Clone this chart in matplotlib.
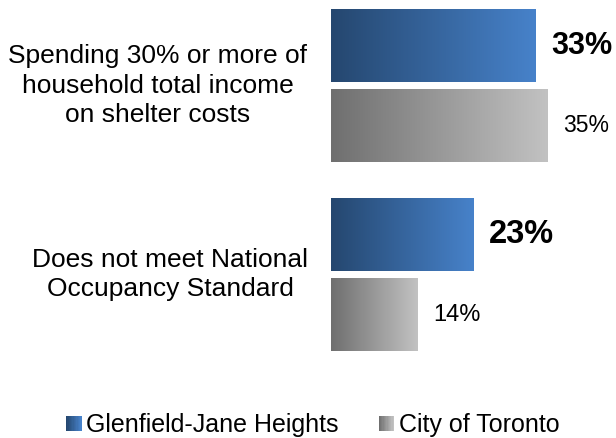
import numpy as np
import matplotlib.pyplot as plt
from matplotlib.colors import LinearSegmentedColormap
from matplotlib.legend_handler import HandlerBase
from matplotlib.patches import Rectangle

plt.rcParams['font.family'] = ['Liberation Sans', 'DejaVu Sans']

categories = ["Spending 30% or more of\nhousehold total income\non shelter costs",
              "Does not meet National\nOccupancy Standard"]
series_names = ["Glenfield-Jane Heights", "City of Toronto"]
glenfield = [33, 23]
toronto = [35, 14]

blue_cmap = LinearSegmentedColormap.from_list("blue", ["#25476f", "#4782ca"])
gray_cmap = LinearSegmentedColormap.from_list("gray", ["#6f6f6f", "#c2c2c2"])


def gradient_bar(ax, bar, cmap):
    x0, y0 = bar.get_x(), bar.get_y()
    w, h = bar.get_width(), bar.get_height()
    grad = np.linspace(0, 1, 256).reshape(1, -1)
    ax.imshow(grad, cmap=cmap, aspect='auto', extent=(x0, x0 + w, y0 + h, y0),
              zorder=2, interpolation='bilinear')


class GradientHandler(HandlerBase):
    def __init__(self, cmap):
        super().__init__()
        self.cmap = cmap

    def create_artists(self, legend, orig_handle, xdescent, ydescent, width,
                       height, fontsize, trans):
        n = 12
        size = 11
        x0 = -xdescent + width - size
        y0 = -ydescent + (height - size) / 2
        arts = []
        for i in range(n):
            r = Rectangle((x0 + i * size / n, y0), size / n + 0.3, size,
                          facecolor=self.cmap(i / (n - 1)), edgecolor='none',
                          transform=trans)
            arts.append(r)
        return arts


fig = plt.figure(figsize=(6.16, 4.38), dpi=100)
ax = fig.add_axes([331 / 616, 1 - 380 / 438, 285 / 616, 380 / 438])

scale = 189.0  # px per group
y = np.arange(len(categories))
off = 40 / scale
h = 73 / scale

b1 = ax.barh(y - off, glenfield, height=h, color='none')
b2 = ax.barh(y + off, toronto, height=h, color='none')
for bar in b1:
    gradient_bar(ax, bar, blue_cmap)
for bar in b2:
    gradient_bar(ax, bar, gray_cmap)

# label sizes as they appear in the original
for bar, v, fs in zip(b1, glenfield, [22, 23.5]):
    ax.annotate(f"{v}%", (bar.get_width(), bar.get_y() + bar.get_height() / 2),
                xytext=(11, 0), textcoords='offset points', va='center',
                ha='left', fontsize=fs, fontweight='bold')
for bar, v, fs in zip(b2, toronto, [16.5, 17]):
    ax.annotate(f"{v}%", (bar.get_width(), bar.get_y() + bar.get_height() / 2),
                xytext=(11, 0), textcoords='offset points', va='center',
                ha='left', fontsize=fs)

for yi, cat, cx in zip(y, categories, [158, 170]):
    ax.text((cx - 331) / 285, yi, cat, transform=ax.get_yaxis_transform(),
            ha='center', va='center', fontsize=19, linespacing=1.3)

ax.set_xlim(0, 285 / 6.2)
ax.set_ylim(y[-1] + (380 - 274.5) / scale, -85.5 / scale)
ax.axis('off')

h1 = Rectangle((0, 0), 1, 1)
h2 = Rectangle((0, 0), 1, 1)
fig.legend([h1, h2], series_names, loc='center', ncol=2,
           bbox_to_anchor=(0.507, 1 - 425 / 438), frameon=False, fontsize=18,
           handler_map={h1: GradientHandler(blue_cmap), h2: GradientHandler(gray_cmap)},
           handlelength=0.65, handletextpad=0.2, columnspacing=1.55)

fig.savefig("out.png", dpi=100)
